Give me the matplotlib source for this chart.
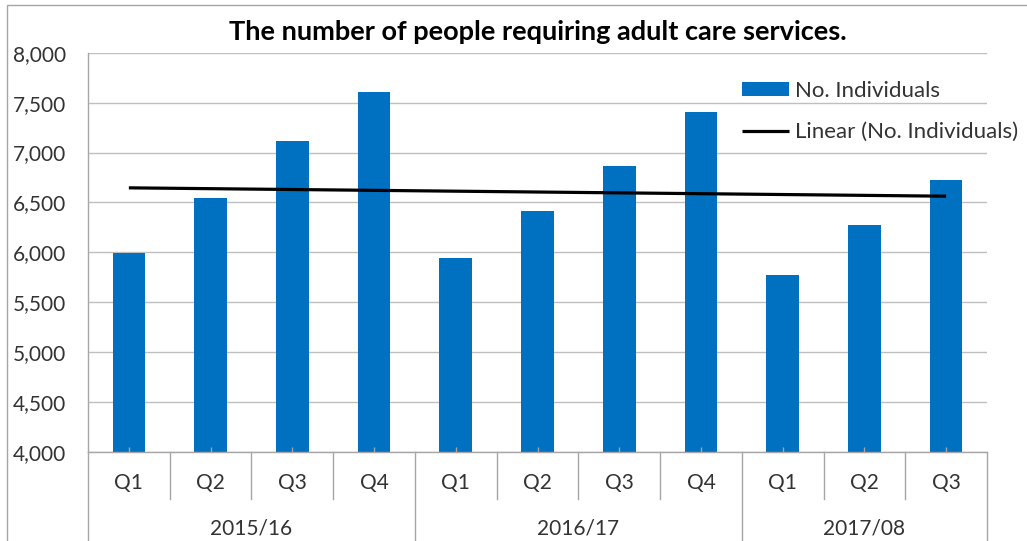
import numpy as np
import matplotlib
matplotlib.use("Agg")
import matplotlib.pyplot as plt
import matplotlib.transforms as mtransforms
from matplotlib.lines import Line2D
from matplotlib.patches import Rectangle

plt.rcParams['font.family'] = ['Lato', 'DejaVu Sans']

quarters = ["Q1", "Q2", "Q3", "Q4", "Q1", "Q2", "Q3", "Q4", "Q1", "Q2", "Q3"]
years = ["2015/16", "2016/17", "2017/08"]
year_sizes = [4, 4, 3]
values = [5995, 6540, 7112, 7603, 5945, 6413, 6867, 7402, 5778, 6269, 6724]
title = "The number of people requiring adult care services."
series_name = "No. Individuals"
trend_name = "Linear (No. Individuals)"

W, H = 1027, 541
fig = plt.figure(figsize=(W / 100, H / 100), dpi=100)
ax = fig.add_axes([88 / W, 1 - 452 / H, (987 - 88) / W, (452 - 52.7) / H])

grid_c = "#BFBFBF"
axis_c = "#A6A6A6"
text_c = "#333333"
bar_c = "#0070C0"

x = np.arange(len(values))
bars = ax.bar(x, values, width=0.4, color=bar_c, zorder=2, label=series_name)

coef = np.polyfit(x, values, 1)
trend = np.polyval(coef, x)
tl, = ax.plot(x, trend, color="black", lw=2.3, zorder=3, label=trend_name,
              solid_capstyle="butt")

ax.set_xlim(-0.5, len(values) - 0.5)
ax.set_ylim(4000, 8000)
ax.set_yticks(np.arange(4000, 8001, 500))
ax.set_yticklabels([f"{v:,}" for v in range(4000, 8001, 500)])
ax.yaxis.grid(True, color=grid_c, lw=1.0, zorder=0)
ax.set_axisbelow(True)
for s in ["top", "right"]:
    ax.spines[s].set_visible(False)
ax.spines["left"].set_color(axis_c)
ax.spines["bottom"].set_color(axis_c)
ax.spines["left"].set_linewidth(1.0)
ax.spines["bottom"].set_linewidth(1.0)
ax.tick_params(axis="y", length=0, labelsize=15, labelcolor=text_c, pad=16)
ax.set_xticks([])

# small inner tick marks at category centers
ax.vlines(x, 4000, 4000 + 4.5 / 399 * 4000, color=axis_c, lw=1.0, zorder=4)

trans = mtransforms.blended_transform_factory(ax.transData, ax.transAxes)
px = 1 / 399.0
# quarter separators
bounds = np.cumsum(year_sizes)
for b in np.arange(0.5, len(values) - 0.5, 1.0):
    if int(b + 0.5) in bounds:
        continue
    ax.add_line(Line2D([b, b], [0, -(499 - 452) * px], transform=trans,
                       color=axis_c, lw=1.0, clip_on=False))
# group separators (incl. both ends)
for b in [-0.5] + [bb - 0.5 for bb in bounds]:
    ax.add_line(Line2D([b, b], [0, -(545 - 452) * px], transform=trans,
                       color=axis_c, lw=1.0, clip_on=False))

for xi, q in zip(x, quarters):
    ax.text(xi, -(483 - 452) * px, q, transform=trans, ha="center", va="center",
            fontsize=15, color=text_c)
start = 0
for y, n in zip(years, year_sizes):
    c = start + (n - 1) / 2
    ax.text(c, -(528 - 452) * px, y, transform=trans, ha="center", va="center",
            fontsize=15, color=text_c)
    start += n

fig.text(538 / W, 1 - 32 / H, title, ha="center", va="center",
         fontsize=19.5, fontweight="bold", color="black")

leg = ax.legend(handles=[bars, tl], loc="upper left",
                bbox_to_anchor=(733 / W, 1 - 72 / H), bbox_transform=fig.transFigure,
                frameon=False, fontsize=16, handlelength=2.1, handleheight=0.6,
                handletextpad=0.3, labelspacing=0.95, borderaxespad=0,
                labelcolor=text_c)

# outer chart border (partly cropped)
fig.add_artist(Rectangle((7 / W, -0.1), 1.2, 1 - 5 / H + 0.1, transform=fig.transFigure,
                         fill=False, edgecolor="#A6A6A6", lw=1.0))

fig.savefig("out.png", dpi=100)
